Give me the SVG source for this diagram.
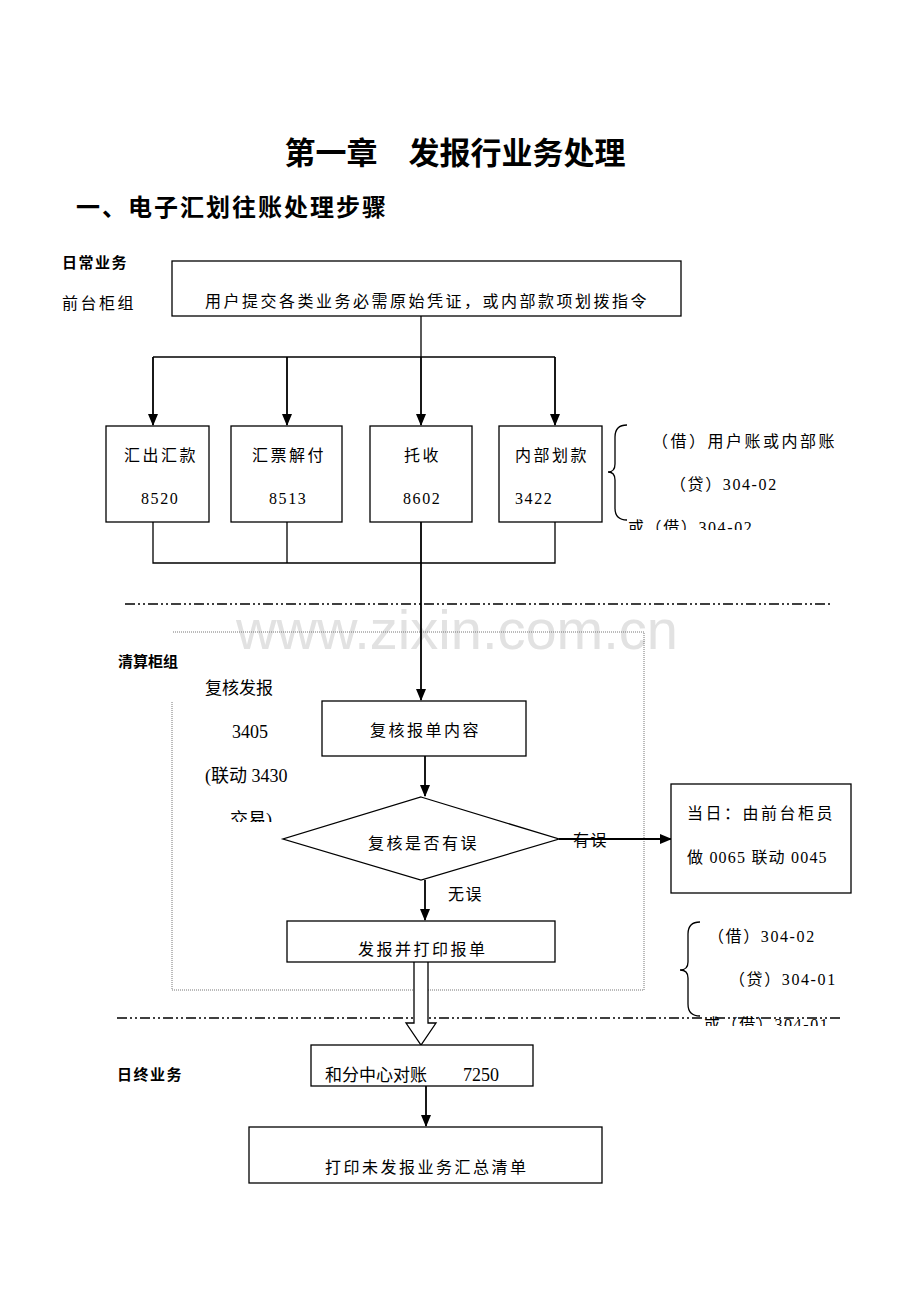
<svg xmlns="http://www.w3.org/2000/svg" width="920" height="1300" viewBox="0 0 920 1300">
<defs>
<style>
.t{font-family:"Liberation Serif","Noto Sans CJK SC",serif;font-size:16px;fill:#000}
.s{letter-spacing:2.5px}
.n{letter-spacing:1.6px}
.b{font-family:"Noto Sans CJK SC","Liberation Sans",sans-serif;font-weight:bold;fill:#000}
.box{fill:#fff;stroke:#000;stroke-width:1.3}
.ln{fill:none;stroke:#000;stroke-width:1.3}
.ar{fill:none;stroke:#000;stroke-width:1.8}
.dd{fill:none;stroke:#000;stroke-width:1.3;stroke-dasharray:10 3 2 3 2 3}
.dot{fill:none;stroke:#777;stroke-width:1;stroke-dasharray:1 1}
</style>
<marker id="ah" markerWidth="12" markerHeight="12" viewBox="0 0 12 12" refX="11" refY="6" orient="auto" markerUnits="userSpaceOnUse">
<path d="M0,1 L12,6 L0,11 Z" fill="#000"/>
</marker>
<clipPath id="c1"><rect x="600" y="400" width="300" height="130"/></clipPath>
<clipPath id="c2"><rect x="180" y="660" width="150" height="162"/></clipPath>
<clipPath id="c3"><rect x="700" y="900" width="200" height="126"/></clipPath>
</defs>

<text x="457" y="634" font-family="Liberation Sans,Arial,sans-serif" font-size="56" fill="#e2e2e2" text-anchor="middle" dominant-baseline="middle">www.zixin.com.cn</text>

<text class="b" x="455" y="164" font-size="31" text-anchor="middle">第一章　发报行业务处理</text>
<text class="b" x="76" y="216" font-size="24" letter-spacing="2">一、电子汇划往账处理步骤</text>

<text class="b" x="62" y="268" font-size="15" letter-spacing="1.5">日常业务</text>
<text class="t" x="62" y="309" style="letter-spacing:2.5px">前台柜组</text>
<text class="b" x="118" y="667" font-size="15">清算柜组</text>
<text class="b" x="117" y="1080" font-size="15" letter-spacing="1.5">日终业务</text>

<g id="guides">
<line class="dd" x1="125" y1="604" x2="832" y2="604"/>
<line class="dd" x1="117" y1="1018" x2="842" y2="1018"/>
<path class="dot" d="M173,632 H644 V990 H172 V702"/>
</g>

<g id="connectors">
<line class="ln" x1="421" y1="316" x2="421" y2="357"/>
<line class="ln" x1="153" y1="357" x2="555" y2="357"/>
<line class="ar" x1="153" y1="357" x2="153" y2="425" marker-end="url(#ah)"/>
<line class="ar" x1="287" y1="357" x2="287" y2="425" marker-end="url(#ah)"/>
<line class="ar" x1="421" y1="357" x2="421" y2="425" marker-end="url(#ah)"/>
<line class="ar" x1="555" y1="357" x2="555" y2="425" marker-end="url(#ah)"/>
<path class="ln" d="M153,522 V563 H555 V522 M287,522 V563"/>
<line class="ar" x1="421" y1="522" x2="421" y2="700" marker-end="url(#ah)"/>
<line class="ar" x1="425" y1="756" x2="425" y2="796" marker-end="url(#ah)"/>
<line class="ar" x1="559" y1="839" x2="671" y2="839" marker-end="url(#ah)"/>
<line class="ar" x1="425" y1="880" x2="425" y2="920" marker-end="url(#ah)"/>
<path d="M414,962 V1023 H406 L421,1045 L436,1023 H428 V962" fill="#fff" stroke="#000" stroke-width="1.3"/>
<line class="ar" x1="426" y1="1086" x2="426" y2="1126" marker-end="url(#ah)"/>
<text class="t" x="573" y="846" style="letter-spacing:1.5px">有误</text>
<text class="t" x="448" y="900" style="letter-spacing:1.5px">无误</text>
</g>

<g id="n-top">
<rect class="box" x="172" y="261" width="509" height="55"/>
<text class="t s" x="205" y="307">用户提交各类业务必需原始凭证，或内部款项划拨指令</text>
</g>

<g id="n-8520">
<rect class="box" x="106" y="426" width="103" height="96"/>
<text class="t s" x="124" y="461">汇出汇款</text>
<text class="t n" x="141" y="504">8520</text>
</g>
<g id="n-8513">
<rect class="box" x="231" y="426" width="111" height="96"/>
<text class="t s" x="252" y="461">汇票解付</text>
<text class="t n" x="269" y="504">8513</text>
</g>
<g id="n-8602">
<rect class="box" x="370" y="426" width="102" height="96"/>
<text class="t s" x="404" y="461">托收</text>
<text class="t n" x="403" y="504">8602</text>
</g>
<g id="n-3422">
<rect class="box" x="499" y="426" width="103" height="96"/>
<text class="t s" x="515" y="461">内部划款</text>
<text class="t n" x="515" y="504">3422</text>
</g>

<g id="note1">
<path class="ln" d="M627,425 Q615,425 615,437 V464 Q615,472 608,472 Q615,472 615,480 V508 Q615,520 627,520"/>
<text class="t s" x="652" y="447">（借）用户账或内部账</text>
<text class="t n" x="670" y="490">（贷）304-02</text>
<text class="t n" x="628" y="533" clip-path="url(#c1)">或（借）304-02</text>
</g>

<g id="note-3405">
<text class="t" x="205" y="694" style="font-size:17px">复核发报</text>
<text class="t" x="232" y="738" style="font-size:18px">3405</text>
<text class="t" x="205" y="782" style="font-size:18px">(联动 3430</text>
<text class="t" x="230" y="826" style="font-size:18px" clip-path="url(#c2)">交易)</text>
</g>

<g id="n-check">
<rect class="box" x="322" y="701" width="204" height="55"/>
<text class="t s" x="370" y="736">复核报单内容</text>
</g>

<g id="n-decision">
<polygon class="box" points="421,797 559,839 421,880 283,839"/>
<text class="t s" x="368" y="849">复核是否有误</text>
</g>

<g id="n-error">
<rect class="box" x="671" y="784" width="180" height="109"/>
<text class="t s" x="687" y="819">当日：由前台柜员</text>
<text class="t" x="687" y="863" style="letter-spacing:1.2px">做 0065 联动 0045</text>
</g>

<g id="n-send">
<rect class="box" x="287" y="921" width="268" height="41"/>
<text class="t s" x="358" y="955">发报并打印报单</text>
</g>

<g id="note2">
<path class="ln" d="M700,922 Q688,922 688,934 V962 Q688,970 680,970 Q688,970 688,978 V1004 Q688,1016 700,1016"/>
<text class="t n" x="708" y="942">（借）304-02</text>
<text class="t n" x="729" y="985">（贷）304-01</text>
<text class="t n" x="704" y="1030" clip-path="url(#c3)">或（借）304-01</text>
</g>

<g id="n-reconcile">
<rect class="box" x="311" y="1045" width="222" height="41"/>
<text class="t" x="325" y="1081" style="font-size:17px">和分中心对账</text>
<text class="t" x="463" y="1081" style="font-size:18px">7250</text>
</g>

<g id="n-print">
<rect class="box" x="249" y="1127" width="353" height="56"/>
<text class="t s" x="325" y="1173">打印未发报业务汇总清单</text>
</g>
</svg>
